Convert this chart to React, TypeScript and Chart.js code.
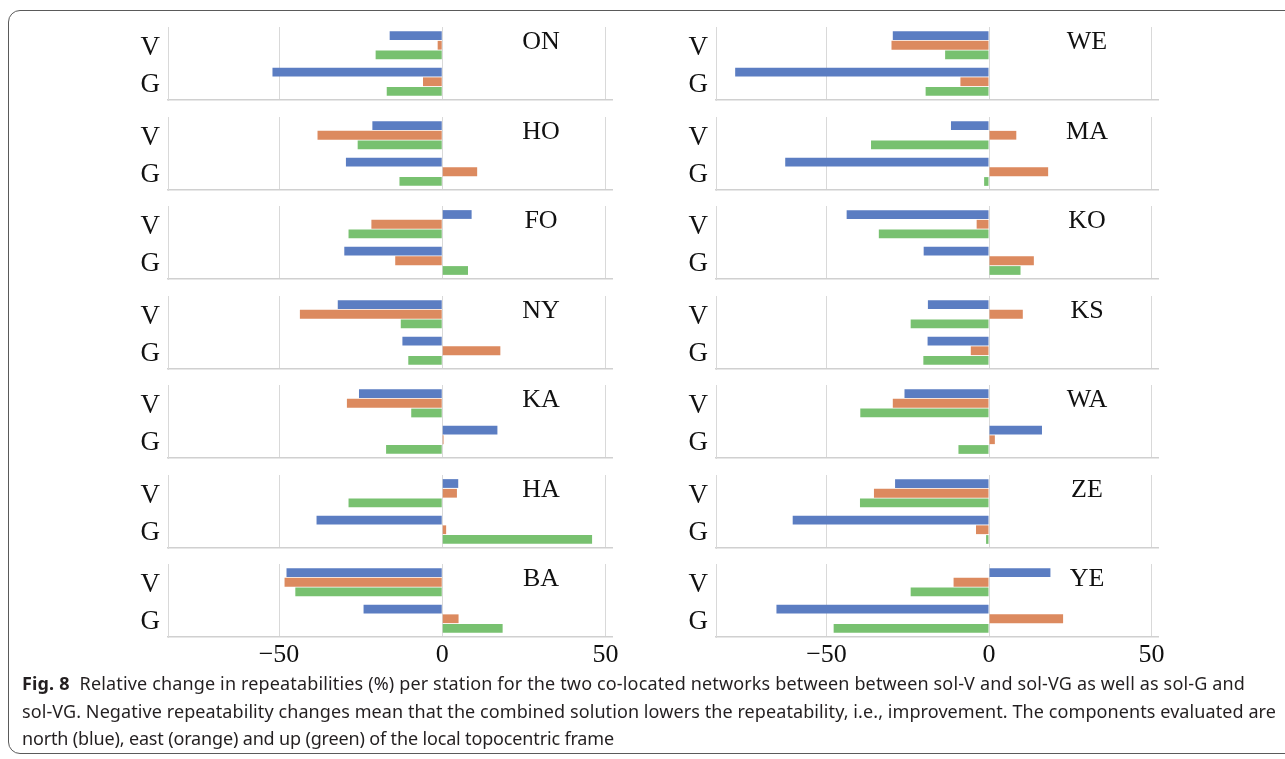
import React, { useEffect, useRef } from 'react';
import { Chart, registerables } from 'chart.js';

Chart.register(...registerables);

// ---------- data ----------
const stations = ['ON', 'HO', 'FO', 'NY', 'KA', 'HA', 'BA', 'WE', 'MA', 'KO', 'KS', 'WA', 'ZE', 'YE'];
const categories = ['V', 'G'];
const seriesNames = ['north', 'east', 'up'];

// sol-V vs sol-VG (row "V")
const northV = [-16.1, -21.4, 9.0, -32.0, -25.5, 4.9, -47.7, -29.6, -11.7, -43.8, -18.8, -26.0, -28.9, 18.9];
const eastV = [-1.4, -38.2, -21.7, -43.6, -29.2, 4.5, -48.3, -30.0, 8.4, -3.8, 10.4, -29.6, -35.4, -10.9];
const upV = [-20.4, -25.9, -28.7, -12.7, -9.5, -28.7, -45.0, -13.5, -36.3, -33.9, -24.1, -39.6, -39.7, -24.1];

// sol-G vs sol-VG (row "G")
const northG = [-52.0, -29.5, -30.0, -12.2, 16.9, -38.5, -24.1, -78.1, -62.7, -20.1, -18.9, 16.3, -60.4, -65.4];
const eastG = [-5.9, 10.7, -14.4, 17.8, 0.4, 1.2, 5.0, -8.8, 18.2, 13.8, -5.6, 1.8, -4.0, 22.8];
const upG = [-17.0, -13.1, 7.9, -10.4, -17.2, 45.9, 18.5, -19.5, -1.5, 9.7, -20.2, -9.4, -0.9, -47.8];

const xTicks = [-50, 0, 50];
const xMin = -84;
const xMax = 52;

const captionLines = [
  'Relative change in repeatabilities (%) per station for the two co-located networks between between sol-V and sol-VG as well as sol-G and',
  'sol-VG. Negative repeatability changes mean that the combined solution lowers the repeatability, i.e., improvement. The components evaluated are',
  'north (blue), east (orange) and up (green) of the local topocentric frame',
];

// ---------- styles ----------
const colors = ['#5B7DC2', '#DC8A5F', '#78C170'];
const gridColor = '#d9d9d9';
const serif = '"Liberation Serif", "Times New Roman", serif';

const stationLabelPlugin = {
  id: 'stationLabel',
  afterDraw(chart: any, _args: any, opts: any) {
    const { ctx, chartArea } = chart;
    ctx.save();
    ctx.font = `26px ${serif}`;
    ctx.fillStyle = '#111';
    ctx.textAlign = 'center';
    ctx.textBaseline = 'middle';
    ctx.fillText(opts.text, chartArea.right - 71, chartArea.top + 15);
    ctx.restore();
  },
};

function Panel({ index }: { index: number }) {
  const ref = useRef<HTMLCanvasElement | null>(null);
  const col = index < 7 ? 0 : 1;
  const row = index % 7;
  const isBottom = row === 6;
  const plotW = col === 0 ? 444 : 442;
  const plotH = 73;
  const yAxisW = 48;
  const padRight = 18;
  const xAxisH = 34;
  const width = yAxisW + plotW + padRight;
  const height = isBottom ? plotH + xAxisH : plotH + 2;
  const left = col === 0 ? 120 : 668;
  const top = Math.round(27 + 89.5 * row);

  useEffect(() => {
    if (!ref.current) return;
    const vVals = [northV[index], eastV[index], upV[index]];
    const gVals = [northG[index], eastG[index], upG[index]];
    const chart = new Chart(ref.current, {
      type: 'bar',
      data: {
        labels: categories,
        datasets: seriesNames.map((name, i) => ({
          label: name,
          data: [vVals[i], gVals[i]],
          backgroundColor: colors[i],
          borderWidth: 0,
          barPercentage: 0.9,
          categoryPercentage: 0.8,
        })),
      },
      options: {
        indexAxis: 'y',
        animation: false,
        responsive: false,
        maintainAspectRatio: false,
        layout: { padding: { top: 0, right: padRight, bottom: isBottom ? 0 : 2, left: 0 } },
        plugins: {
          legend: { display: false },
          tooltip: { enabled: false },
          stationLabel: { text: stations[index] },
        } as any,
        scales: {
          x: {
            min: xMin,
            max: xMax,
            afterBuildTicks: (scale: any) => {
              scale.ticks = xTicks.map((v) => ({ value: v }));
            },
            afterFit: (scale: any) => {
              scale.paddingLeft = 0;
              scale.paddingRight = 0;
              if (isBottom) scale.height = xAxisH;
            },
            grid: { color: gridColor, lineWidth: 1, drawTicks: false },
            border: { display: true, color: '#d0d0d0', width: 1.5 },
            ticks: {
              display: isBottom,
              padding: 3,
              color: '#111',
              font: { family: serif, size: 26 },
              callback: (v: any) => (Number(v) < 0 ? '\u2212' + Math.abs(Number(v)) : String(v)),
            },
          },
          y: {
            afterFit: (scale: any) => {
              scale.width = yAxisW;
              scale.paddingTop = 0;
              scale.paddingBottom = 0;
            },
            grid: { display: false, drawTicks: false },
            border: { display: true, color: gridColor, width: 1 },
            ticks: {
              padding: 8,
              labelOffset: 3,
              color: '#111',
              font: { family: serif, size: 27 },
            },
          },
        },
      },
      plugins: [stationLabelPlugin],
    });
    return () => chart.destroy();
  }, [index]);

  return (
    <canvas
      ref={ref}
      width={width}
      height={height}
      style={{ position: 'absolute', left, top, width, height }}
    />
  );
}

function Caption() {
  const refs = useRef<(HTMLSpanElement | null)[]>([]);
  const targets = [1245, 1276, 614];
  const startX = 22;
  useEffect(() => {
    const fit = () => {
      refs.current.forEach((el, i) => {
        if (!el) return;
        el.style.letterSpacing = '0px';
        const w = el.getBoundingClientRect().width;
        const n = (el.textContent || '').length;
        const diff = targets[i] - startX - w;
        el.style.letterSpacing = `${diff / n}px`;
      });
    };
    fit();
    if ((document as any).fonts && (document as any).fonts.ready) {
      (document as any).fonts.ready.then(fit);
    }
  }, []);
  return (
    <div
      style={{
        position: 'absolute',
        left: startX,
        top: 670,
        fontFamily: '"Noto Sans", "Open Sans", sans-serif',
        fontSize: 18,
        lineHeight: '27.5px',
        color: '#231f20',
        whiteSpace: 'nowrap',
      }}
    >
      {captionLines.map((line, i) => (
        <div key={i}>
          <span ref={(el) => { refs.current[i] = el; }} style={{ display: 'inline-block' }}>
            {i === 0 ? (
              <>
                <b style={{ fontWeight: 700, marginRight: 10 }}>Fig. 8</b>
                {line}
              </>
            ) : (
              line
            )}
          </span>
        </div>
      ))}
    </div>
  );
}

export default function App() {
  return (
    <div
      style={{
        position: 'absolute',
        left: 0,
        top: 0,
        width: 1285,
        height: 759,
        overflow: 'hidden',
        background: '#fff',
      }}
    >
      <div
        style={{
          position: 'absolute',
          left: 8,
          top: 10,
          width: 1320,
          height: 744,
          border: '1.5px solid #5a5a5a',
          borderRadius: 12,
          boxSizing: 'border-box',
        }}
      />
      {stations.map((_, i) => (
        <Panel key={i} index={i} />
      ))}
      <Caption />
    </div>
  );
}
